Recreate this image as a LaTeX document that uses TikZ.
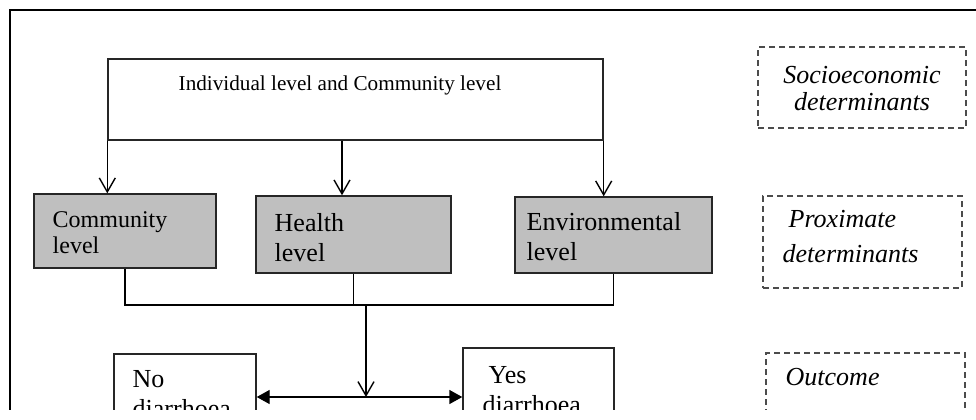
\documentclass[tikz,border=0pt]{standalone}
\usepackage{fontspec}
\setmainfont{Liberation Serif}
\usepackage{tikz}
\usetikzlibrary{arrows.meta}
\tikzset{box/.style={draw=black!85, line width=0.7pt, inner sep=0pt}}
\tikzset{grey box/.style={box, fill=black!25}}
\tikzset{note/.style={draw=black!70, line width=0.6pt, dash pattern=on 3pt off 2pt, inner sep=0pt}}
\tikzset{txt/.style={anchor=base west, inner sep=0pt, align=left, font=\fontsize{13}{15}\selectfont}}
\tikzset{note txt/.style={txt, font=\fontsize{13}{13.5}\selectfont\itshape}}
\tikzset{open arrow/.style={-{Straight Barb[length=7pt,width=8pt]}}}
\tikzset{both heads/.style={{Triangle[length=6.5pt,width=7pt]}-{Triangle[length=6.5pt,width=7pt]}}}

\begin{document}
\begin{tikzpicture}[x=0.5pt,y=-0.5pt,line width=0.7pt]
\useasboundingbox (0,0) rectangle (976,419);
\clip (0,0) rectangle (976,409);
\draw[line width=1pt] (10,10) rectangle (990,440);

% boxes
\node[box, minimum width=247.5pt, minimum height=40.5pt] (ind) at (355.5,99.5) {};
\node[grey box, minimum width=91pt, minimum height=37pt] (comm) at (125,231) {};
\node[grey box, minimum width=97.5pt, minimum height=38.5pt] (hlth) at (353.5,234.5) {};
\node[grey box, minimum width=98.5pt, minimum height=38pt] (env) at (613.5,235) {};
\node[box, minimum width=71pt, minimum height=43pt] (nod) at (185,397) {};
\node[box, minimum width=75.5pt, minimum height=49pt] (yesd) at (538.5,397) {};
\node[note, minimum width=104pt, minimum height=40.5pt] (soc) at (862,87.5) {};
\node[note, minimum width=99.5pt, minimum height=46pt] (prox) at (862.5,242) {};
\node[note, minimum width=99.5pt, minimum height=53pt] (outc) at (865.5,406) {};

% texts (base = last line)
\node[txt, font=\fontsize{10.6}{13}\selectfont] (indt) at (178,90) {Individual level and Community level};
\node[txt, font=\fontsize{12}{13}\selectfont] (commt) at (52,253) {Community\\level};
\node[txt] (hltht) at (274,261) {Health\\level};
\node[txt] (envt) at (526,260) {Environmental\\level};
\node[txt] (nodt) at (132,417) {No\\diarrhoea};
\node[txt] (yesdt) at (482,413) {\hspace*{3pt}Yes\\diarrhoea};
\node[note txt, align=center, anchor=base] (soct) at (862,110) {Socioeconomic\\determinants};
\node[note txt, font=\fontsize{13}{17.5}\selectfont\itshape] (proxt) at (782,262) {\hspace*{3pt}Proximate\\determinants};
\node[note txt] (outct) at (785,385) {Outcome};

% links
\draw[open arrow] (ind.south west) -- (ind.south west |- comm.north);
\draw[open arrow] ([xshift=-6.75pt]ind.south) -- ([xshift=-6.75pt]ind.south |- hlth.north);
\draw[open arrow] (ind.south east) -- (ind.south east |- env.north);
\coordinate (join) at (366,305);
\draw (comm.south) |- (join) -| (env.south);
\draw (hlth.south) -- (hlth.south |- join);
\draw[open arrow] (join) -- (join |- nod.east);
\draw[both heads] (nod.east) -- (yesd.west);
\end{tikzpicture}
\end{document}
